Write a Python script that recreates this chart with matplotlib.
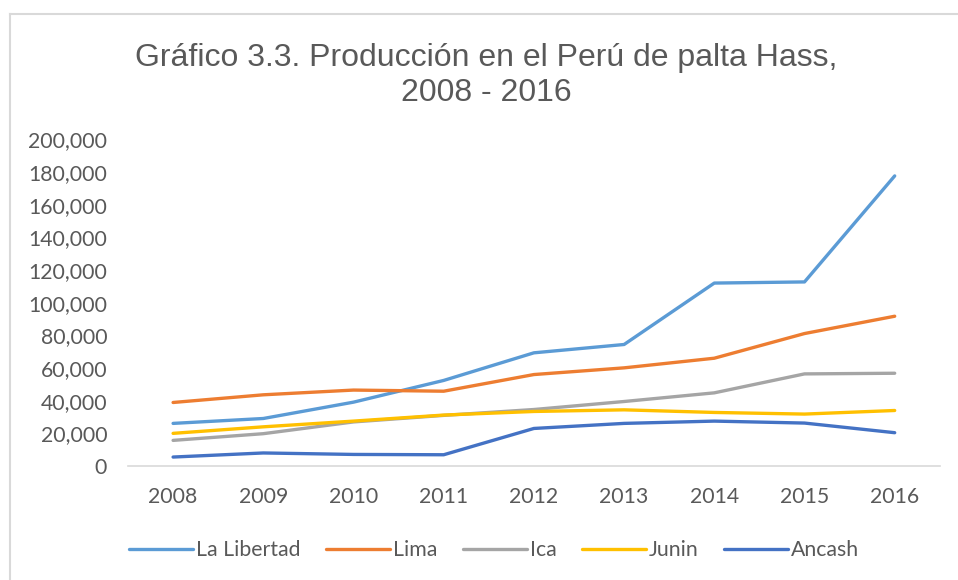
import matplotlib.pyplot as plt
from matplotlib.lines import Line2D
from matplotlib.ticker import FuncFormatter

years = ['2008', '2009', '2010', '2011', '2012', '2013', '2014', '2015', '2016']
la_libertad = [26100, 29100, 39100, 52400, 69300, 74400, 112000, 112700, 177600]
lima = [38900, 43600, 46500, 45800, 56000, 60100, 66000, 81100, 91700]
ica = [15700, 19800, 27000, 31000, 34600, 39500, 44800, 56400, 56800]
junin = [20000, 24000, 27500, 31200, 33400, 34400, 32800, 31800, 34000]
ancash = [5500, 8000, 7100, 6900, 23000, 26100, 27500, 26300, 20400]

series = [('La Libertad', la_libertad, '#5B9BD5'),
          ('Lima', lima, '#ED7D31'),
          ('Ica', ica, '#A5A5A5'),
          ('Junin', junin, '#FFC000'),
          ('Ancash', ancash, '#4472C4')]

txt = '#595959'
fig = plt.figure(figsize=(9.58, 5.8), dpi=100)
ax = fig.add_axes([0.1336, 0.1965, 0.8474, 0.5633])

x = range(len(years))
for name, vals, col in series:
    ax.plot(x, vals, color=col, lw=2.4, label=name, solid_capstyle='round')

ax.set_xlim(-0.5, len(years) - 0.5)
ax.set_ylim(0, 200000)
ax.set_yticks(range(0, 200001, 20000))
ax.yaxis.set_major_formatter(FuncFormatter(lambda v, p: f'{int(v):,}'))
ax.set_xticks(list(x))
ax.set_xticklabels(years)

for s in ['top', 'right', 'left']:
    ax.spines[s].set_visible(False)
ax.spines['bottom'].set_color('#D9D9D9')
ax.spines['bottom'].set_linewidth(1.2)
ax.tick_params(axis='both', length=0, labelsize=15.3, labelcolor=txt)
ax.tick_params(axis='x', pad=15)
ax.tick_params(axis='y', pad=15)
for lab in ax.get_xticklabels() + ax.get_yticklabels():
    lab.set_family('Lato')

fig.text(0.508, 0.87, 'Gráfico 3.3. Producción en el Perú de palta Hass,\n2008 - 2016',
         ha='center', va='center', fontsize=23, color=txt, linespacing=1.2,
         family=['Liberation Sans Narrow', 'Liberation Sans'])

leg = fig.legend(loc='center', bbox_to_anchor=(0.516, 0.051), ncol=5, frameon=False,
                 handlelength=3.0, columnspacing=1.2, handletextpad=0.15,
                 prop={'family': 'Lato', 'size': 15.3})
for t in leg.get_texts():
    t.set_color(txt)

# chart area border (top and left visible)
fig.add_artist(Line2D([10 / 958, 1], [1 - 14 / 580, 1 - 14 / 580], color='#D9D9D9', lw=1.5))
fig.add_artist(Line2D([10 / 958, 10 / 958], [0, 1 - 14 / 580], color='#D9D9D9', lw=1.5))

fig.savefig('out.png', dpi=100)
